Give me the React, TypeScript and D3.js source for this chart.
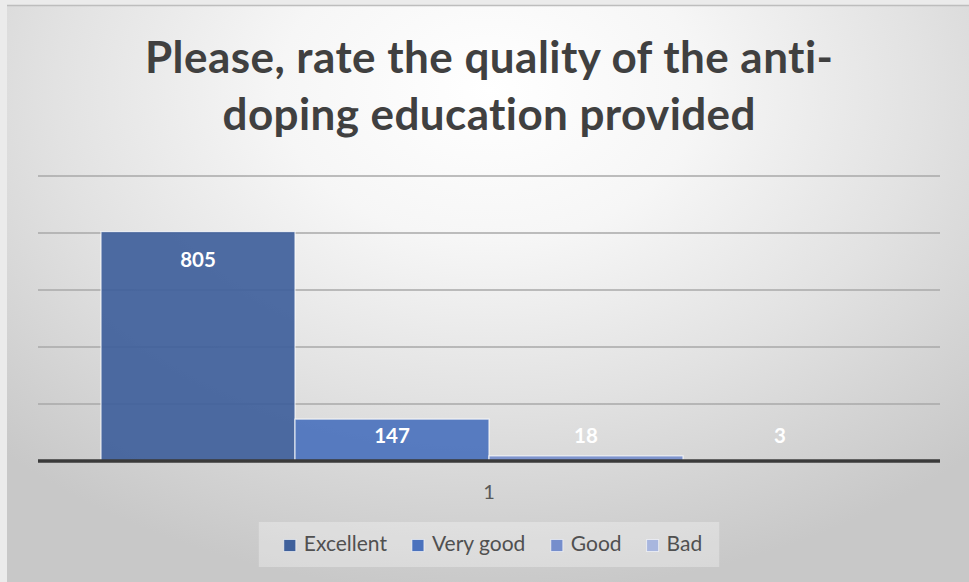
import React from "react";
import * as d3 from "d3";

// Survey result: quality rating of anti-doping education
const titleLines = ["Please, rate the quality of the anti-", "doping education provided"];
const titleWidths = [688, 533];
const categories = ["1"];
const seriesNames = ["Excellent", "Very good", "Good", "Bad"];
const seriesValues = [805, 147, 18, 3];
const seriesColors = ["#3f609b", "#4b72bd", "#768ecc", "#a8b6de"];
const yTicks = [0, 200, 400, 600, 800, 1000];

const W = 969;
const H = 582;
const plot = { left: 38, right: 940, top: 176, bottom: 461 };
const FONT = "Lato, 'Open Sans', sans-serif";
const noLiga = { fontVariantLigatures: "none", fontFeatureSettings: "'liga' 0, 'clig' 0" } as React.CSSProperties;

let measureCtx: CanvasRenderingContext2D | null = null;
function textWidth(text: string, font: string): number {
  if (!measureCtx) measureCtx = document.createElement("canvas").getContext("2d");
  if (!measureCtx) return text.length * 10;
  measureCtx.font = font;
  return measureCtx.measureText(text).width;
}

export default function App() {
  const y = d3.scaleLinear().domain([0, 1000]).range([plot.bottom, plot.top]);
  const x0 = d3
    .scaleBand<string>()
    .domain(categories)
    .range([plot.left, plot.right])
    .paddingInner(0)
    .paddingOuter(0.0812);
  const x1 = d3.scaleBand<string>().domain(seriesNames).range([0, x0.bandwidth()]);
  const color = d3.scaleOrdinal<string, string>().domain(seriesNames).range(seriesColors);
  const cx = (plot.left + plot.right) / 2;

  // legend layout: square, label, gap
  const legendFont = `21px ${FONT}`;
  const sq = 12;
  const sqToText = 20;
  const itemGap = 25;
  const widths = seriesNames.map((n) => textWidth(n, legendFont));
  const total = widths.reduce((a, w) => a + sqToText + w, 0) + itemGap * (seriesNames.length - 1);
  const legendStart = cx + 4 - total / 2;
  let acc = legendStart;
  const legendItems = seriesNames.map((n, i) => {
    const item = { name: n, x: acc };
    acc += sqToText + widths[i] + itemGap;
    return item;
  });
  const legendEnd = acc - itemGap;

  const cat = categories[0];

  return (
    <svg
      width={W}
      height={H}
      style={{ position: "absolute", left: 0, top: 0, display: "block" }}
      xmlns="http://www.w3.org/2000/svg"
    >
      <defs>
        <radialGradient
          id="chartBg"
          gradientUnits="userSpaceOnUse"
          cx={489}
          cy={90}
          r={700}
          gradientTransform="translate(489 90) scale(1 0.72) translate(-489 -90)"
        >
          <stop offset="0" stopColor="#ffffff" />
          <stop offset="0.3" stopColor="#f6f6f6" />
          <stop offset="0.62" stopColor="#e2e2e2" />
          <stop offset="0.85" stopColor="#d2d2d2" />
          <stop offset="1" stopColor="#c8c8c8" />
        </radialGradient>
      </defs>

      <rect x={0} y={0} width={W} height={H} fill="#ebebeb" />
      <rect x={7} y={5} width={W - 7} height={H - 5} fill="url(#chartBg)" />
      <line x1={7} x2={W} y1={5.5} y2={5.5} stroke="#bdbdbd" strokeWidth={1.5} />

      {/* title */}
      {titleLines.map((t, i) => (
        <text
          key={t}
          x={cx}
          y={73 + i * 57}
          textAnchor="middle"
          fontFamily={FONT}
          fontWeight={700}
          fontSize={44}
          fill="#404040"
          textLength={titleWidths[i]}
          lengthAdjust="spacing"
          style={noLiga}
        >
          {t}
        </text>
      ))}

      {/* gridlines */}
      {yTicks
        .filter((t) => t > 0)
        .map((t) => (
          <line
            key={t}
            x1={plot.left}
            x2={plot.right}
            y1={y(t)}
            y2={y(t)}
            stroke="#a8a8a8"
            strokeWidth={1.5}
          />
        ))}

      {/* bars */}
      {seriesNames.map((n, i) => {
        const v = seriesValues[i];
        const bx = (x0(cat) ?? 0) + (x1(n) ?? 0);
        return (
          <rect
            key={n}
            x={bx}
            y={y(v)}
            width={x1.bandwidth()}
            height={y(0) - y(v)}
            fill={color(n)}
            fillOpacity={0.92}
            stroke="#ffffff"
            strokeOpacity={0.75}
            strokeWidth={1.2}
          />
        );
      })}

      {/* baseline axis */}
      <line
        x1={plot.left}
        x2={plot.right}
        y1={y(0)}
        y2={y(0)}
        stroke="#3a3a3a"
        strokeWidth={3.5}
      />

      {/* value labels */}
      {seriesNames.map((n, i) => {
        const v = seriesValues[i];
        const bx = (x0(cat) ?? 0) + (x1(n) ?? 0) + x1.bandwidth() / 2;
        const ly = Math.min(y(v) + 35, y(0) - 18);
        return (
          <text
            key={n}
            x={bx}
            y={ly}
            textAnchor="middle"
            fontFamily={FONT}
            fontWeight={700}
            fontSize={20.5}
            fill="#ffffff"
          >
            {v}
          </text>
        );
      })}

      {/* category label */}
      <text
        x={(x0(cat) ?? 0) + x0.bandwidth() / 2}
        y={499}
        textAnchor="middle"
        fontFamily={FONT}
        fontSize={20}
        fill="#595959"
      >
        {cat}
      </text>

      {/* legend */}
      <rect
        x={legendStart - 25}
        y={522}
        width={legendEnd - legendStart + 42}
        height={45}
        fill="#ffffff"
        fillOpacity={0.3}
      />
      {legendItems.map((it) => (
        <g key={it.name}>
          <rect
            x={it.x}
            y={539.5}
            width={sq}
            height={sq}
            fill={color(it.name)}
            stroke="#ffffff"
            strokeOpacity={0.6}
            strokeWidth={1}
          />
          <text
            x={it.x + sqToText}
            y={551}
            fontFamily={FONT}
            fontSize={21}
            fill="#505050"
            style={noLiga}
          >
            {it.name}
          </text>
        </g>
      ))}
    </svg>
  );
}
